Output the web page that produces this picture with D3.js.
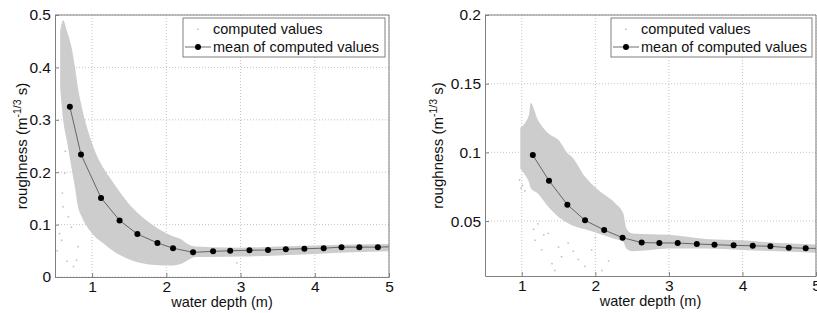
<!DOCTYPE html>
<html>
<head>
<meta charset="utf-8">
<script src="https://cdn.jsdelivr.net/npm/d3@7"></script>
<style>
  body { margin: 0; background: #fff; }
  svg { font-family: "Liberation Sans", Arial, sans-serif; }
</style>
</head>
<body>
<div id="chart"></div>
<script>
// left panel: mean of computed values
const leftDepth = [0.70, 0.85, 1.12, 1.37, 1.61, 1.88, 2.09, 2.36, 2.63, 2.86, 3.12, 3.37, 3.61, 3.86, 4.12, 4.36, 4.60, 4.85, 5.10]
const leftMean = [0.325, 0.234, 0.151, 0.108, 0.082, 0.065, 0.055, 0.047, 0.049, 0.050, 0.051, 0.0515, 0.053, 0.054, 0.055, 0.057, 0.057, 0.057, 0.058]
// left panel: envelope of the computed values cloud
const leftCloudDepth = [0.57, 0.61, 0.66, 0.72, 0.77, 0.81, 0.86, 1.00, 1.17, 1.26, 1.53, 1.85, 2.05, 2.21, 2.30, 2.39, 2.60, 3.00, 3.50, 4.00, 4.50, 5.00]
const leftCloudLow = [0.36, 0.30, 0.26, 0.21, 0.17, 0.134, 0.115, 0.083, 0.062, 0.052, 0.032, 0.023, 0.022, 0.026, 0.033, 0.038, 0.038, 0.039, 0.041, 0.044, 0.047, 0.049]
const leftCloudHigh = [0.47, 0.49, 0.47, 0.44, 0.40, 0.36, 0.325, 0.255, 0.204, 0.185, 0.134, 0.096, 0.080, 0.071, 0.062, 0.058, 0.057, 0.056, 0.058, 0.060, 0.062, 0.063]
// left panel: stray computed values
const leftStrayDepth = [0.63, 0.61, 0.68, 0.59, 0.56, 0.81, 0.75, 0.66, 0.79, 0.53, 0.60, 2.95, 0.72, 0.64]
const leftStrayValue = [0.198, 0.134, 0.115, 0.070, 0.083, 0.058, 0.020, 0.030, 0.032, 0.050, 0.160, 0.027, 0.095, 0.240]

// right panel
const rightDepth = [1.15, 1.37, 1.62, 1.86, 2.12, 2.37, 2.63, 2.87, 3.12, 3.38, 3.62, 3.88, 4.14, 4.38, 4.63, 4.86, 5.10]
const rightMean = [0.098, 0.0794, 0.0619, 0.0505, 0.0435, 0.0379, 0.0343, 0.0341, 0.034, 0.0333, 0.0328, 0.0323, 0.032, 0.0316, 0.0306, 0.0302, 0.030]
const rightCloudDepth = [0.98, 1.05, 1.10, 1.12, 1.22, 1.36, 1.50, 1.63, 1.68, 1.86, 2.04, 2.27, 2.38, 2.42, 2.50, 3.00, 3.50, 4.00, 4.50, 5.00]
const rightCloudLow = [0.088, 0.083, 0.078, 0.074, 0.070, 0.0604, 0.053, 0.0484, 0.047, 0.044, 0.041, 0.037, 0.035, 0.030, 0.028, 0.030, 0.030, 0.029, 0.028, 0.027]
const rightCloudHigh = [0.118, 0.122, 0.128, 0.136, 0.1236, 0.114, 0.109, 0.099, 0.0968, 0.0823, 0.0726, 0.063, 0.0556, 0.045, 0.041, 0.040, 0.037, 0.036, 0.034, 0.033]
const rightStrayDepth = [1.18, 1.27, 1.41, 1.54, 1.22, 1.63, 1.77, 1.95, 1.86, 1.45, 1.36, 1.16, 1.04, 1.01, 2.09, 2.18, 1.30, 1.70, 2.00, 1.50, 0.97, 0.99]
const rightStrayValue = [0.036, 0.029, 0.019, 0.024, 0.048, 0.034, 0.022, 0.029, 0.017, 0.014, 0.041, 0.044, 0.072, 0.076, 0.014, 0.021, 0.040, 0.028, 0.038, 0.031, 0.080, 0.074]

const xTicks = [1, 2, 3, 4, 5]
const leftYTicks = [0, 0.1, 0.2, 0.3, 0.4, 0.5]
const rightYTicks = [0.05, 0.1, 0.15, 0.2]

const svg = d3.select("#chart")
    .append("svg")
    .attr("width", 817)
    .attr("height", 313)

function panel(opts) {
    const x = d3.scaleLinear().domain([0.5, 5]).range([opts.left, opts.right])
    const y = d3.scaleLinear().domain(opts.yDomain).range([opts.bottom, opts.top])
    const g = svg.append("g")

    g.append("clipPath").attr("id", opts.id)
        .append("rect")
        .attr("x", opts.left).attr("y", opts.top)
        .attr("width", opts.right - opts.left).attr("height", opts.bottom - opts.top)

    // dotted grid
    g.selectAll(".gx").data(xTicks).join("line")
        .attr("x1", d => x(d)).attr("x2", d => x(d))
        .attr("y1", opts.top).attr("y2", opts.bottom)
        .attr("stroke", "#c4c4c4").attr("stroke-dasharray", "1,2")
    g.selectAll(".gy").data(opts.yTicks).join("line")
        .attr("x1", opts.left).attr("x2", opts.right)
        .attr("y1", d => y(d)).attr("y2", d => y(d))
        .attr("stroke", "#c4c4c4").attr("stroke-dasharray", "1,2")

    const plot = g.append("g").attr("clip-path", `url(#${opts.id})`)

    // cloud of computed values
    const cloud = opts.cloudDepth.map((d, i) => ({depth: d, lo: opts.cloudLow[i], hi: opts.cloudHigh[i]}))
    plot.append("path")
        .datum(cloud)
        .attr("fill", "#cdcdcd")
        .attr("d", d3.area().x(d => x(d.depth)).y0(d => y(d.lo)).y1(d => y(d.hi)).curve(d3.curveMonotoneX))

    plot.selectAll(".stray").data(opts.strayDepth).join("rect")
        .attr("x", d => x(d) - 0.75)
        .attr("y", (d, i) => y(opts.strayValue[i]) - 0.75)
        .attr("width", 1.5).attr("height", 1.5)
        .attr("fill", "#bdbdbd")

    // mean line
    const mean = opts.depth.map((d, i) => ({depth: d, value: opts.mean[i]}))
    plot.append("path")
        .datum(mean)
        .attr("fill", "none")
        .attr("stroke", "#4a4a4a")
        .attr("stroke-width", 0.8)
        .attr("d", d3.line().x(d => x(d.depth)).y(d => y(d.value)))
    plot.selectAll(".dot").data(mean).join("circle")
        .attr("cx", d => x(d.depth))
        .attr("cy", d => y(d.value))
        .attr("r", 3)
        .attr("fill", "#000")

    // axes, ticks pointing inward
    g.append("g")
        .attr("transform", `translate(0, ${opts.bottom})`)
        .call(d3.axisBottom(x).tickValues(xTicks).tickFormat(d3.format("d")).tickSizeInner(-4).tickSizeOuter(0).tickPadding(4))
    g.append("g")
        .attr("transform", `translate(${opts.left}, 0)`)
        .call(d3.axisLeft(y).tickValues(opts.yTicks).tickFormat(d => String(d)).tickSizeInner(-4).tickSizeOuter(0).tickPadding(4))
    g.append("line").attr("x1", opts.left).attr("x2", opts.right).attr("y1", opts.top).attr("y2", opts.top)
    g.append("line").attr("x1", opts.right).attr("x2", opts.right).attr("y1", opts.top).attr("y2", opts.bottom)
    g.selectAll(".domain, .tick line, line:not([stroke])").attr("stroke", "#808080")
    g.selectAll(".tick text").attr("font-size", 15.5).attr("fill", "#111")
        .attr("font-family", "Liberation Sans, Arial, sans-serif")

    // labels
    g.append("text")
        .attr("x", (opts.left + opts.right) / 2)
        .attr("y", opts.bottom + 30)
        .attr("text-anchor", "middle")
        .attr("font-size", 14.5).attr("fill", "#111")
        .text("water depth (m)")
    const yl = g.append("text")
        .attr("transform", `translate(${opts.labelX}, ${(opts.top + opts.bottom) / 2}) rotate(-90)`)
        .attr("text-anchor", "middle")
        .attr("font-size", 15).attr("fill", "#111")
    yl.append("tspan").text("roughness (m")
    yl.append("tspan").attr("font-size", 10.5).attr("dy", -6).text("-1/3")
    yl.append("tspan").attr("dy", 6).text(" s)")

    // legend
    const lg = g.append("g").attr("transform", `translate(${opts.legendX}, 18)`)
    lg.append("rect").attr("width", opts.legendW).attr("height", 39)
        .attr("fill", "#fff").attr("stroke", "#808080")
    lg.append("rect").attr("x", 14).attr("y", 10.5).attr("width", 1.5).attr("height", 1.5).attr("fill", "#bdbdbd")
    lg.append("text").attr("x", 30).attr("y", 16).attr("font-size", 14.5).attr("fill", "#111").text("computed values")
    lg.append("line").attr("x1", 2).attr("x2", 28).attr("y1", 29).attr("y2", 29)
        .attr("stroke", "#4a4a4a").attr("stroke-width", 0.8)
    lg.append("circle").attr("cx", 15).attr("cy", 29).attr("r", 3).attr("fill", "#000")
    lg.append("text").attr("x", 30).attr("y", 34).attr("font-size", 14.5).attr("fill", "#111").text("mean of computed values")
}

panel({
    id: "clipL", left: 55, right: 389, top: 15, bottom: 277,
    yDomain: [0, 0.5], yTicks: leftYTicks, labelX: 27,
    depth: leftDepth, mean: leftMean,
    cloudDepth: leftCloudDepth, cloudLow: leftCloudLow, cloudHigh: leftCloudHigh,
    strayDepth: leftStrayDepth, strayValue: leftStrayValue,
    legendX: 183, legendW: 202
})

panel({
    id: "clipR", left: 485, right: 816, top: 15, bottom: 276,
    yDomain: [0.01, 0.2], yTicks: rightYTicks, labelX: 443,
    depth: rightDepth, mean: rightMean,
    cloudDepth: rightCloudDepth, cloudLow: rightCloudLow, cloudHigh: rightCloudHigh,
    strayDepth: rightStrayDepth, strayValue: rightStrayValue,
    legendX: 611, legendW: 201
})
</script>
</body>
</html>
